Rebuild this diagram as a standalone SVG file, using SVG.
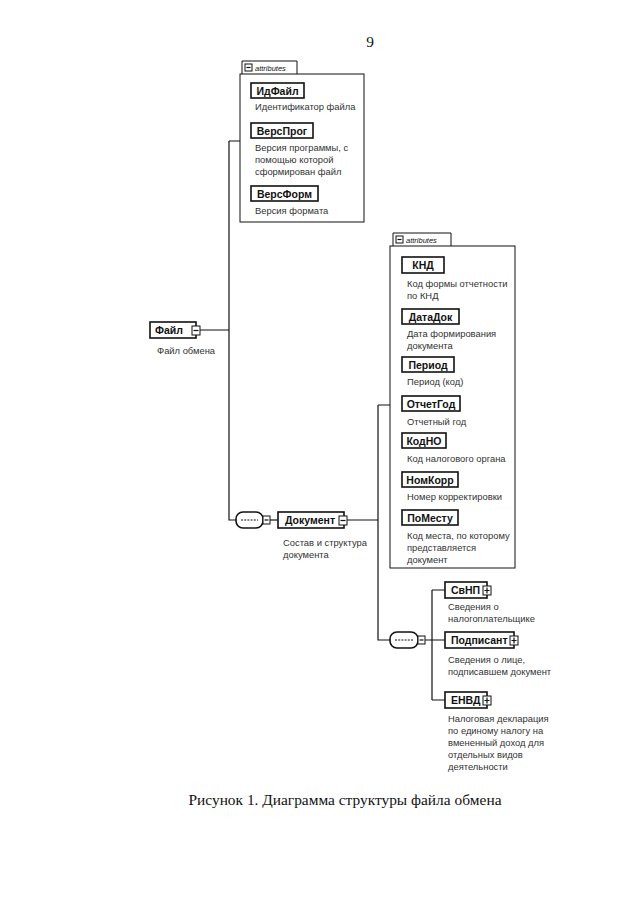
<svg xmlns="http://www.w3.org/2000/svg" width="640" height="905" viewBox="0 0 640 905">
<defs>
<style>
.bg{fill:#fff}
.ln{stroke:#111;stroke-width:1.2;fill:none}
.box{fill:#fff;stroke:#111;stroke-width:1}
.el{fill:#fff;stroke:#111;stroke-width:1.6}
.at{fill:#fff;stroke:#111;stroke-width:1.6}
.ind{fill:#fff;stroke:#111;stroke-width:1}
.nm{font-family:"Liberation Sans",Arial,sans-serif;font-size:10.5px;font-weight:bold;fill:#111}
.ds{font-family:"Liberation Sans",Arial,sans-serif;font-size:9.4px;fill:#333}
.tab{font-family:"Liberation Sans",Arial,sans-serif;font-size:7.5px;font-style:italic;fill:#111}
.cap{font-family:"Liberation Serif","Times New Roman",serif;font-size:15.4px;fill:#111}
</style>
</defs>
<rect class="bg" x="0" y="0" width="640" height="905"/>
<text class="cap" x="370" y="47" font-size="14" text-anchor="middle">9</text>

<g id="connectors">
<path class="ln" d="M200,330 H229 M229,141 V520 H236 M229,141 H240"/>
<path class="ln" d="M270,520 H278"/>
<path class="ln" d="M347,520 H378 M378,405 V640 H390 M378,405 H390"/>
<path class="ln" d="M425,640 H445 M432,590 V700 M432,590 H445 M432,700 H445"/>
</g>

<g id="attrs1">
<path class="box" d="M242,75 V61 H297 V75"/>
<rect class="box" x="240" y="74" width="124" height="148"/>
<rect class="ind" x="245" y="64" width="7" height="7"/>
<path class="ln" d="M246.5,67.5 H250.5" stroke-width="1"/>
<text class="tab" x="255" y="71">attributes</text>
<rect class="at" x="251" y="83" width="53" height="15"/>
<text class="nm" x="277.5" y="94.5" text-anchor="middle">ИдФайл</text>
<text class="ds" x="255" y="110">Идентификатор файла</text>
<rect class="at" x="251" y="123" width="62" height="15"/>
<text class="nm" x="282" y="134.5" text-anchor="middle">ВерсПрог</text>
<text class="ds" x="255" y="151">Версия программы, с</text>
<text class="ds" x="255" y="163">помощью которой</text>
<text class="ds" x="255" y="175">сформирован файл</text>
<rect class="at" x="251" y="186" width="67" height="15"/>
<text class="nm" x="284.5" y="197.5" text-anchor="middle">ВерсФорм</text>
<text class="ds" x="255" y="214">Версия формата</text>
</g>

<g id="file">
<rect class="el" x="150" y="322" width="46" height="16"/>
<text class="nm" x="155" y="334">Файл</text>
<rect class="ind" x="192" y="326" width="8" height="9"/>
<path class="ln" d="M193.5,330.5 H198.5" stroke-width="1"/>
<text class="ds" x="157" y="354">Файл обмена</text>
</g>

<g id="seq1">
<rect class="el" x="236" y="512" width="27" height="16" rx="7"/>
<path class="ln" d="M241,520 H258" stroke-dasharray="2,1.2"/>
<rect class="ind" x="263" y="516" width="7" height="8"/>
<path class="ln" d="M264.5,520 H268.5" stroke-width="1"/>
</g>

<g id="document">
<rect class="el" x="278" y="512" width="66" height="16"/>
<text class="nm" x="285" y="524">Документ</text>
<rect class="ind" x="339" y="516" width="8" height="9"/>
<path class="ln" d="M340.5,520.5 H345.5" stroke-width="1"/>
<text class="ds" x="283" y="546">Состав и структура</text>
<text class="ds" x="283" y="558">документа</text>
</g>

<g id="attrs2">
<path class="box" d="M393,247 V233 H451 V247"/>
<rect class="box" x="390" y="246" width="125" height="322"/>
<rect class="ind" x="396" y="236" width="7" height="7"/>
<path class="ln" d="M397.5,239.5 H401.5" stroke-width="1"/>
<text class="tab" x="406" y="243">attributes</text>
<rect class="at" x="402" y="257" width="42" height="16"/>
<text class="nm" x="423" y="269" text-anchor="middle">КНД</text>
<text class="ds" x="407" y="287">Код формы отчетности</text>
<text class="ds" x="407" y="299">по КНД</text>
<rect class="at" x="402" y="309" width="57" height="15"/>
<text class="nm" x="430.5" y="320.5" text-anchor="middle">ДатаДок</text>
<text class="ds" x="407" y="337">Дата формирования</text>
<text class="ds" x="407" y="349">документа</text>
<rect class="at" x="402" y="357" width="52" height="15"/>
<text class="nm" x="428" y="368.5" text-anchor="middle">Период</text>
<text class="ds" x="407" y="385">Период (код)</text>
<rect class="at" x="402" y="396" width="58" height="15"/>
<text class="nm" x="431" y="407.5" text-anchor="middle">ОтчетГод</text>
<text class="ds" x="407" y="425">Отчетный год</text>
<rect class="at" x="402" y="433" width="44" height="15"/>
<text class="nm" x="424" y="444.5" text-anchor="middle">КодНО</text>
<text class="ds" x="407" y="462">Код налогового органа</text>
<rect class="at" x="402" y="472" width="56" height="15"/>
<text class="nm" x="430" y="483.5" text-anchor="middle">НомКорр</text>
<text class="ds" x="407" y="500">Номер корректировки</text>
<rect class="at" x="402" y="510" width="56" height="15"/>
<text class="nm" x="430" y="521.5" text-anchor="middle">ПоМесту</text>
<text class="ds" x="407" y="539">Код места, по которому</text>
<text class="ds" x="407" y="551">представляется</text>
<text class="ds" x="407" y="563">документ</text>
</g>

<g id="seq2">
<rect class="el" x="390" y="632" width="28" height="16" rx="7"/>
<path class="ln" d="M395,640 H413" stroke-dasharray="2,1.2"/>
<rect class="ind" x="418" y="636" width="7" height="8"/>
<path class="ln" d="M419.5,640 H423.5" stroke-width="1"/>
</g>

<g id="svnp">
<rect class="el" x="445" y="582" width="42" height="16"/>
<text class="nm" x="451" y="594">СвНП</text>
<rect class="ind" x="483" y="586" width="8" height="9"/>
<path class="ln" d="M484.5,590.5 H489.5 M487,587.5 V593.5" stroke-width="1"/>
<text class="ds" x="448" y="610">Сведения о</text>
<text class="ds" x="448" y="622">налогоплательщике</text>
</g>

<g id="podpisant">
<rect class="el" x="445" y="632" width="69" height="16"/>
<text class="nm" x="451" y="644">Подписант</text>
<rect class="ind" x="510" y="636" width="8" height="9"/>
<path class="ln" d="M511.5,640.5 H516.5 M514,637.5 V643.5" stroke-width="1"/>
<text class="ds" x="448" y="663">Сведения о лице,</text>
<text class="ds" x="448" y="675">подписавшем документ</text>
</g>

<g id="envd">
<rect class="el" x="445" y="692" width="42" height="16"/>
<text class="nm" x="451" y="704">ЕНВД</text>
<rect class="ind" x="483" y="696" width="8" height="9"/>
<path class="ln" d="M484.5,700.5 H489.5 M487,697.5 V703.5" stroke-width="1"/>
<text class="ds" x="448" y="722">Налоговая декларация</text>
<text class="ds" x="448" y="734">по единому налогу на</text>
<text class="ds" x="448" y="746">вмененный доход для</text>
<text class="ds" x="448" y="758">отдельных видов</text>
<text class="ds" x="448" y="770">деятельности</text>
</g>

<text class="cap" x="345" y="805" text-anchor="middle">Рисунок 1. Диаграмма структуры файла обмена</text>
</svg>
